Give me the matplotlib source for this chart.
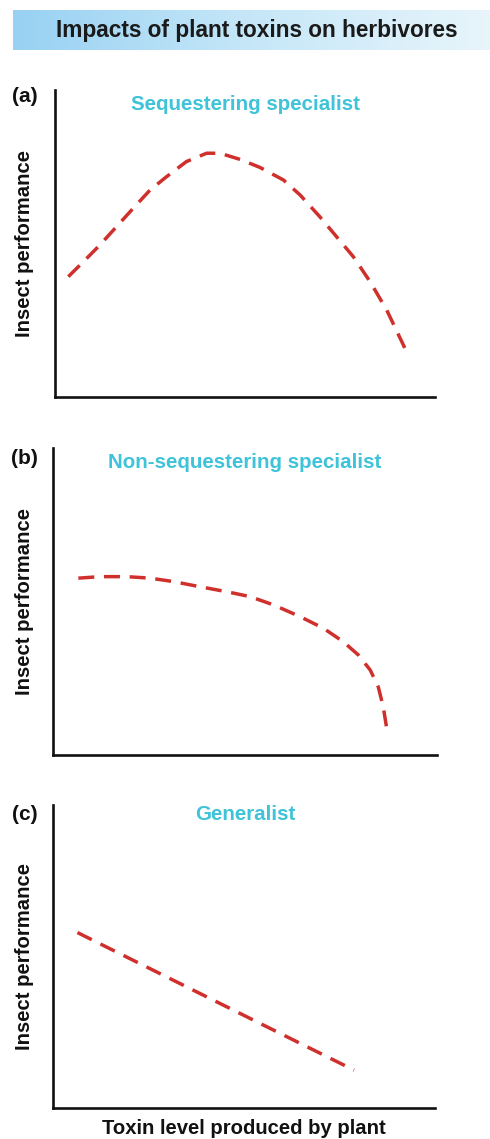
import numpy as np
import matplotlib
matplotlib.use("Agg")
import matplotlib.pyplot as plt
from matplotlib.colors import LinearSegmentedColormap

plt.rcParams['font.family'] = ['Liberation Sans', 'DejaVu Sans']

# values (x: toxin level 0-10, y: performance 0-10)
seq_x = [0.35, 0.75, 1.18, 1.62, 2.06, 2.50, 2.94, 3.46, 3.99, 4.34,
         4.87, 5.39, 6.01, 6.45, 6.97, 7.41, 7.85, 8.29, 8.73, 9.25]
seq_y = [3.92, 4.41, 4.95, 5.55, 6.15, 6.74, 7.18, 7.67, 7.94, 7.94,
         7.74, 7.48, 7.07, 6.58, 5.87, 5.22, 4.57, 3.76, 2.83, 1.48]

nonseq_x = [0.66, 1.22, 1.92, 2.53, 3.13, 3.83, 4.52, 5.13, 5.74, 6.43,
            7.04, 7.56, 7.95, 8.26, 8.47, 8.60, 8.69]
nonseq_y = [5.76, 5.81, 5.81, 5.76, 5.65, 5.48, 5.32, 5.16, 4.89, 4.51,
            4.13, 3.69, 3.26, 2.77, 2.22, 1.57, 0.87]

gen_x = [0.64, 7.88]
gen_y = [5.79, 1.25]

panel_tags = ['(a)', '(b)', '(c)']
panel_titles = ['Sequestering specialist', 'Non-sequestering specialist', 'Generalist']
ylab = 'Insect performance'
xlab = 'Toxin level produced by plant'
main_title = 'Impacts of plant toxins on herbivores'

W, H = 490, 1139
fig = plt.figure(figsize=(W / 100, H / 100), dpi=100)

def fx(px):
    return px / W

def fy(py):
    return 1 - py / H

# title banner with a blue gradient
bax = fig.add_axes([fx(13), fy(50), fx(477), 40 / H])
cmap = LinearSegmentedColormap.from_list('banner', ['#98d1f3', '#c6e7f8', '#e8f5fb'])
bax.imshow(np.linspace(0, 1, 256)[None, :], aspect='auto', cmap=cmap, extent=[0, 1, 0, 1])
bax.axis('off')
fig.text(fx(257), fy(31), main_title, ha='center', va='center',
         fontsize=16.3, fontweight='bold', color='#1a1a1a')

# axes boxes in pixels: left, top, right, bottom
boxes = [(55, 90, 435, 397), (53, 448, 437, 755), (53, 805, 435, 1108)]
curves = [(seq_x, seq_y), (nonseq_x, nonseq_y), (gen_x, gen_y)]
tag_y = [97, 458, 815]
title_y = [105, 462, 815]

red = '#d0302c'
cyan = '#3ec3d8'
ink = '#111111'

for i in range(3):
    l, t, r, b = boxes[i]
    ax = fig.add_axes([fx(l), fy(b), (r - l) / W, (b - t) / H])
    x, y = curves[i]
    ax.plot(x, y, color=red, lw=2.5, linestyle=(0, (4.6, 2.8)), solid_capstyle='butt')
    ax.set_xlim(0, 10)
    ax.set_ylim(0, 10)
    for s in ['top', 'right']:
        ax.spines[s].set_visible(False)
    for s in ['left', 'bottom']:
        ax.spines[s].set_linewidth(1.9)
        ax.spines[s].set_color(ink)
        ax.spines[s].set_capstyle('projecting')
    ax.set_xticks([])
    ax.set_yticks([])
    fig.text(fx(25), fy((t + b) / 2), ylab, rotation=90, ha='center', va='center',
             fontsize=14.6, fontweight='bold', color=ink)
    fig.text(fx(24.5), fy(tag_y[i]), panel_tags[i], ha='center', va='center',
             fontsize=15, fontweight='bold', color=ink)
    fig.text(fx(245), fy(title_y[i]), panel_titles[i], ha='center', va='center',
             fontsize=14.8, fontweight='bold', color=cyan)

fig.text(fx(244), fy(1128), xlab, ha='center', va='center',
         fontsize=14.6, fontweight='bold', color=ink)

fig.savefig('out.png', dpi=100, facecolor='white')
